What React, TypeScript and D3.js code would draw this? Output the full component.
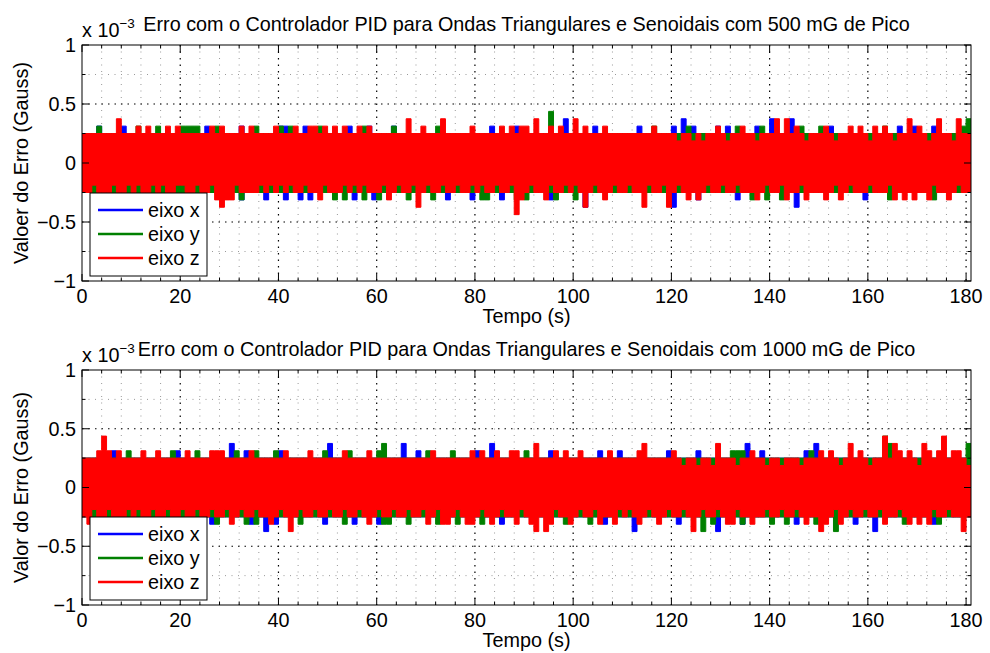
import React from 'react';
import * as d3 from 'd3';

// sensor quantization step, in units of 1e-3 Gauss; series below are stored as integer steps
const LEVEL = 0.0625;

const xTicks = [0, 20, 40, 60, 80, 100, 120, 140, 160, 180];
const xMinor = [4, 8, 12, 16, 24, 28, 32, 36, 44, 48, 52, 56, 64, 68, 72, 76, 84, 88, 92, 96, 104, 108, 112, 116, 124, 128, 132, 136, 144, 148, 152, 156, 164, 168, 172, 176];
const yTicks = [-1, -0.5, 0, 0.5, 1];
const yTickLabels = ['\u22121', '\u22120.5', '0', '0.5', '1'];
const yMinor = [-0.75, -0.25, 0.25, 0.75];
const seriesNames = ['eixo x', 'eixo y', 'eixo z'];
const seriesColors = ['#0000ff', '#008000', '#ff0000'];
const titles = [
  'Erro com o Controlador PID para Ondas Triangulares e Senoidais com 500 mG de Pico',
  'Erro com o Controlador PID para Ondas Triangulares e Senoidais com 1000 mG de Pico',
];
const yLabels = ['Valoer do Erro (Gauss)', 'Valor do Erro (Gauss)'];

// ---- 500 mG, per second peak (upper) and trough (lower) levels ----
const x1Upper = [
  4,4,4,5,4,4,4,4,5,4, 4,4,4,4,4,4,4,4,4,4, 4,4,4,4,4,5,4,4,4,4, 4,4,5,4,4,4,4,4,4,4,
  5,5,4,4,4,5,4,4,4,4, 4,4,4,4,5,4,4,4,5,4, 4,4,4,5,4,4,4,4,4,4, 4,4,4,4,4,4,4,4,4,4,
  4,4,4,5,4,4,4,4,5,4, 4,4,4,4,4,4,4,4,6,4, 4,4,4,4,5,4,4,4,4,4, 4,4,4,5,4,4,4,4,4,4,
  5,4,6,4,5,4,4,4,4,5, 4,5,4,4,4,4,4,5,4,4, 6,4,4,4,6,4,4,4,4,4, 4,4,5,4,4,4,4,4,4,4,
  4,4,4,4,4,4,5,4,4,5, 4,4,4,5,4,4,4,4,4,4, 4,
];
const x1Lower = [
  -4,-4,-4,-4,-4,-4,-4,-4,-4,-4, -4,-4,-4,-4,-4,-4,-4,-4,-4,-4, -4,-4,-4,-4,-4,-4,-4,-4,-4,-4, -4,-4,-5,-4,-4,-4,-4,-5,-4,-4,
  -4,-5,-4,-4,-5,-4,-5,-4,-4,-4, -4,-4,-4,-4,-4,-5,-4,-4,-4,-5, -4,-4,-4,-4,-4,-4,-4,-4,-4,-4, -4,-4,-4,-4,-5,-4,-4,-4,-4,-5,
  -4,-4,-4,-4,-4,-5,-4,-4,-4,-4, -4,-4,-4,-4,-4,-5,-4,-4,-4,-4, -4,-4,-6,-4,-4,-4,-4,-4,-4,-4, -4,-4,-4,-4,-4,-4,-4,-4,-4,-4,
  -6,-4,-4,-4,-4,-5,-4,-4,-4,-4, -4,-4,-4,-5,-4,-4,-4,-4,-4,-4, -4,-4,-4,-4,-4,-6,-4,-4,-4,-4, -4,-4,-4,-4,-4,-4,-4,-4,-4,-5,
  -4,-4,-4,-4,-4,-4,-4,-4,-4,-4, -4,-4,-4,-4,-4,-4,-4,-4,-4,-4, -4,
];
const y1Upper = [
  4,4,4,5,4,4,4,4,4,4, 4,5,4,4,4,5,4,4,4,4, 5,5,5,5,4,4,4,5,4,4, 4,4,4,4,4,5,4,4,4,4,
  5,4,5,4,4,4,4,4,5,4, 4,4,4,4,4,4,4,5,4,4, 4,4,4,5,4,4,4,4,4,4, 4,4,5,4,4,4,4,4,4,4,
  4,4,4,4,4,4,4,4,4,4, 4,4,4,4,4,7,4,4,4,4, 4,4,4,4,4,4,4,4,4,4, 4,4,4,4,4,4,5,4,4,4,
  4,4,4,5,4,4,4,4,4,4, 4,4,4,5,4,4,4,4,5,4, 4,4,4,4,4,4,5,4,4,4, 5,4,4,4,4,4,4,4,4,4,
  4,4,4,5,4,4,4,4,4,4, 4,4,4,4,4,4,4,4,4,5, 6,
];
const y1Lower = [
  -4,-4,-4,-4,-4,-4,-4,-4,-4,-4, -4,-4,-4,-4,-4,-4,-5,-4,-4,-4, -4,-4,-4,-4,-4,-4,-4,-4,-4,-4, -4,-4,-5,-4,-4,-4,-4,-4,-4,-4,
  -4,-4,-4,-4,-4,-4,-4,-4,-4,-4, -4,-5,-4,-5,-4,-4,-4,-5,-4,-4, -5,-4,-4,-4,-4,-4,-5,-4,-4,-4, -4,-5,-4,-4,-4,-4,-4,-4,-4,-4,
  -4,-5,-5,-4,-4,-4,-4,-4,-5,-4, -5,-4,-4,-4,-4,-4,-5,-4,-4,-4, -5,-4,-4,-4,-4,-4,-4,-4,-4,-4, -4,-4,-4,-4,-4,-4,-4,-4,-4,-4,
  -4,-4,-4,-4,-4,-4,-4,-4,-4,-4, -4,-4,-4,-4,-4,-4,-5,-4,-4,-5, -4,-4,-5,-4,-4,-4,-4,-4,-4,-4, -4,-4,-4,-4,-4,-4,-4,-4,-4,-4,
  -4,-4,-4,-4,-5,-4,-4,-4,-4,-4, -4,-4,-4,-5,-4,-4,-4,-4,-4,-4, -4,
];
const z1Upper = [
  4,4,4,4,4,4,4,6,4,4, 4,5,4,5,4,4,4,5,4,5, 4,4,4,4,4,4,5,4,5,4, 4,4,5,4,5,4,4,4,4,5,
  4,4,4,5,4,4,5,5,4,5, 4,5,4,5,4,4,5,4,5,4, 4,4,4,4,4,4,6,4,4,5, 4,4,4,6,4,4,4,4,4,5,
  4,4,4,4,4,5,4,5,4,5, 5,4,6,4,4,5,4,5,4,4, 6,4,5,4,4,4,5,4,4,4, 4,4,4,4,4,4,5,4,4,4,
  4,3,4,4,3,4,3,4,4,5, 4,3,4,4,5,4,4,3,4,4, 4,6,4,6,4,5,4,3,4,4, 4,5,4,3,4,4,5,4,5,4,
  3,5,4,5,4,3,4,4,6,4, 5,4,3,4,6,4,4,3,6,4, 4,
];
const z1Lower = [
  -4,-4,-3,-4,-4,-4,-3,-4,-4,-3, -4,-3,-4,-4,-3,-4,-3,-4,-4,-3, -3,-4,-4,-3,-4,-4,-3,-5,-6,-5, -5,-3,-4,-4,-4,-4,-3,-4,-3,-4,
  -3,-4,-3,-4,-4,-3,-4,-4,-5,-3, -4,-4,-4,-3,-4,-3,-4,-3,-4,-4, -4,-3,-5,-4,-3,-4,-4,-3,-6,-4, -3,-4,-4,-3,-4,-4,-3,-4,-4,-3,
  -4,-3,-4,-4,-3,-4,-4,-3,-7,-5, -4,-3,-4,-4,-5,-3,-4,-4,-3,-4, -3,-4,-6,-4,-3,-4,-5,-4,-3,-4, -4,-3,-4,-4,-6,-3,-4,-4,-3,-6,
  -4,-3,-4,-5,-4,-5,-4,-3,-4,-4, -3,-4,-4,-3,-4,-4,-4,-5,-4,-3, -4,-4,-3,-5,-4,-4,-3,-5,-4,-4, -4,-5,-4,-3,-5,-4,-3,-4,-4,-4,
  -3,-4,-4,-4,-3,-5,-4,-5,-4,-5, -4,-4,-5,-3,-4,-4,-5,-4,-3,-4, -4,
];

// ---- 1000 mG ----
const x2Upper = [
  4,4,4,4,4,4,5,4,4,4, 4,4,4,4,4,4,4,4,4,5, 4,4,4,4,4,4,4,4,4,4, 6,4,4,5,4,4,4,4,4,4,
  5,4,4,4,4,4,4,4,4,4, 6,4,4,4,4,4,4,4,4,4, 4,4,4,4,4,6,4,4,5,4, 4,4,4,4,4,4,4,4,4,4,
  5,4,4,6,4,4,4,4,4,4, 4,4,4,4,4,5,4,4,4,4, 4,4,4,4,4,5,4,4,4,5, 4,4,4,4,4,4,4,4,4,5,
  4,4,4,4,4,5,4,4,4,4, 4,4,4,4,4,6,4,4,5,4, 4,4,4,4,4,4,4,5,4,6, 4,4,4,4,4,4,4,4,4,4,
  4,4,4,4,4,4,4,4,4,4, 4,4,4,4,4,4,4,4,4,4, 4,
];
const x2Lower = [
  -4,-4,-4,-4,-4,-4,-4,-4,-4,-4, -4,-4,-4,-4,-4,-4,-4,-4,-4,-4, -4,-4,-4,-4,-4,-4,-5,-4,-4,-4, -4,-4,-4,-4,-5,-4,-4,-6,-4,-5,
  -4,-4,-4,-4,-4,-4,-4,-4,-4,-5, -4,-4,-4,-4,-4,-5,-4,-4,-4,-4, -5,-4,-4,-4,-4,-4,-4,-4,-4,-4, -4,-4,-4,-4,-4,-4,-4,-4,-4,-4,
  -4,-4,-4,-4,-4,-5,-4,-4,-4,-4, -4,-4,-4,-4,-4,-4,-4,-4,-4,-4, -4,-4,-4,-4,-4,-4,-5,-4,-4,-4, -4,-4,-6,-4,-4,-4,-4,-4,-4,-4,
  -4,-5,-4,-4,-4,-4,-4,-4,-4,-6, -4,-4,-4,-4,-5,-4,-4,-4,-4,-4, -4,-4,-4,-4,-4,-5,-4,-4,-4,-4, -4,-4,-4,-4,-4,-4,-4,-5,-4,-4,
  -4,-6,-4,-4,-4,-4,-4,-4,-4,-4, -4,-4,-4,-5,-4,-4,-4,-4,-4,-4, -4,
];
const y2Upper = [
  4,4,4,4,4,4,4,4,4,5, 4,4,4,4,4,4,4,4,5,4, 4,4,4,5,4,4,4,4,4,4, 4,5,4,4,4,5,4,4,4,5,
  4,4,4,4,4,4,4,4,4,5, 4,4,4,4,5,4,4,4,4,4, 5,6,4,4,4,4,4,4,4,4, 5,4,4,4,4,5,4,4,4,4,
  4,4,4,4,4,4,4,4,4,4, 5,4,4,4,4,4,4,4,4,4, 4,4,4,4,4,4,4,4,4,4, 4,4,4,4,4,4,4,4,4,4,
  4,4,4,4,4,4,4,4,4,4, 4,4,5,5,5,4,4,4,4,4, 4,4,4,4,4,4,4,4,5,4, 4,4,4,4,4,4,4,4,4,4,
  4,4,4,7,6,4,4,4,4,4, 4,4,4,4,4,4,4,4,4,4, 6,
];
const y2Lower = [
  -4,-4,-4,-4,-4,-4,-4,-4,-4,-4, -4,-4,-4,-4,-4,-4,-4,-4,-4,-4, -4,-4,-4,-4,-4,-4,-4,-5,-4,-4, -4,-4,-4,-5,-4,-5,-4,-4,-4,-4,
  -4,-4,-4,-4,-5,-4,-4,-4,-4,-4, -4,-4,-4,-5,-4,-4,-4,-4,-4,-4, -4,-5,-5,-4,-4,-4,-5,-4,-4,-4, -4,-4,-5,-4,-4,-4,-5,-4,-4,-4,
  -4,-5,-4,-4,-4,-4,-4,-4,-4,-4, -4,-4,-4,-4,-4,-4,-4,-4,-5,-4, -4,-4,-4,-5,-4,-4,-4,-4,-4,-4, -4,-4,-4,-4,-4,-4,-4,-4,-4,-4,
  -4,-4,-4,-4,-4,-4,-6,-4,-5,-4, -4,-4,-4,-4,-5,-4,-4,-4,-4,-4, -5,-4,-4,-5,-4,-4,-4,-4,-4,-5, -4,-4,-4,-6,-4,-4,-4,-4,-4,-4,
  -4,-4,-4,-4,-4,-4,-4,-5,-4,-4, -4,-4,-4,-4,-5,-4,-4,-4,-4,-4, -4,
];
const z2Upper = [
  4,4,4,5,7,5,4,5,4,4, 4,4,5,4,4,5,4,4,4,4, 4,5,4,4,4,4,5,5,5,4, 4,4,4,4,5,4,4,4,4,4,
  4,5,4,4,4,4,5,4,4,4, 4,4,4,5,4,4,4,4,5,4, 4,4,4,4,4,4,4,4,4,4, 4,5,4,4,4,4,4,4,4,5,
  4,5,4,4,5,4,4,5,5,4, 4,4,6,4,4,4,5,4,5,4, 4,5,4,4,4,4,4,5,4,4, 4,4,4,5,6,4,4,4,4,4,
  5,4,3,4,4,3,4,4,3,6, 4,4,4,3,4,4,5,4,4,3, 4,4,3,4,4,4,3,4,4,4, 5,4,5,4,3,4,6,4,5,4,
  3,4,4,7,4,6,5,4,5,4, 3,6,5,4,5,7,4,5,5,4, 3,
];
const z2Lower = [
  -4,-5,-3,-4,-4,-3,-4,-4,-4,-3, -4,-3,-4,-4,-3,-4,-4,-3,-4,-4, -3,-4,-4,-3,-4,-4,-3,-4,-4,-3, -5,-4,-3,-4,-4,-3,-4,-4,-5,-4,
  -3,-4,-6,-4,-3,-4,-4,-3,-4,-4, -3,-4,-4,-3,-4,-4,-3,-4,-5,-4, -3,-4,-4,-3,-4,-4,-3,-4,-4,-3, -5,-4,-3,-5,-5,-4,-3,-4,-5,-5,
  -4,-3,-4,-5,-4,-3,-4,-4,-5,-3, -4,-5,-6,-4,-6,-5,-3,-4,-4,-5, -4,-3,-4,-4,-3,-5,-4,-4,-5,-3, -4,-3,-4,-5,-4,-3,-4,-5,-4,-3,
  -4,-4,-3,-4,-6,-4,-3,-4,-4,-3, -4,-5,-5,-3,-4,-4,-5,-4,-4,-3, -4,-4,-3,-4,-4,-3,-4,-5,-4,-4, -6,-5,-4,-3,-5,-4,-3,-4,-4,-3,
  -4,-4,-3,-5,-4,-4,-3,-4,-5,-4, -5,-4,-5,-3,-4,-4,-3,-4,-4,-6, -4,
];

const panelSeries = [
  [[x1Lower, x1Upper], [y1Lower, y1Upper], [z1Lower, z1Upper]],
  [[x2Lower, x2Upper], [y2Lower, y2Upper], [z2Lower, z2Upper]],
];

const W = 990;
const H = 653;
const LEFT = 82;
const RIGHT = 971;
const X_MAX = 181;
const PANELS = [
  { top: 45, bottom: 281 },
  { top: 370, bottom: 605 },
];
const FONT = '"Liberation Sans", Arial, Helvetica, sans-serif';
const FS = 19.8;

function Panel({ idx }: { idx: number }) {
  const { top, bottom } = PANELS[idx];
  const x = d3.scaleLinear().domain([0, X_MAX]).range([LEFT, RIGHT]);
  const y = d3.scaleLinear().domain([-1, 1]).range([bottom, top]);
  const clipId = `clip-${idx}`;

  // each second is drawn as a filled span between its trough and its peak
  const paths = panelSeries[idx].map(([lo, hi]) => {
    const n = hi.length;
    const steps = d3.range(n + 1);
    return d3
      .area<number>()
      .x((i) => x(i))
      .y0((i) => y(lo[Math.min(i, n - 1)] * LEVEL))
      .y1((i) => y(hi[Math.min(i, n - 1)] * LEVEL))
      .curve(d3.curveStepAfter)(steps) as string;
  });

  const midX = (LEFT + RIGHT) / 2;
  const legTop = bottom - 88;
  const legRows = [bottom - 71, bottom - 47, bottom - 23];

  return (
    <g fontFamily={FONT}>
      <defs>
        <clipPath id={clipId}>
          <rect x={LEFT} y={top} width={RIGHT - LEFT} height={bottom - top} />
        </clipPath>
      </defs>
      <rect x={LEFT} y={top} width={RIGHT - LEFT} height={bottom - top} fill="#fff" />
      {/* minor grid */}
      {xMinor.map((t) => (
        <line key={`xm${t}`} x1={x(t)} x2={x(t)} y1={top} y2={bottom} stroke="#999" strokeWidth={1} strokeDasharray="1,5.5" />
      ))}
      {yMinor.map((v) => (
        <line key={`ym${v}`} x1={LEFT} x2={RIGHT} y1={y(v)} y2={y(v)} stroke="#999" strokeWidth={1} strokeDasharray="1,5.5" />
      ))}
      {/* major grid */}
      {xTicks.slice(1).map((t) => (
        <line key={`xg${t}`} x1={x(t)} x2={x(t)} y1={top} y2={bottom} stroke="#000" strokeWidth={1.2} strokeDasharray="1.5,5" />
      ))}
      {yTicks.slice(1, -1).map((v) => (
        <line key={`yg${v}`} x1={LEFT} x2={RIGHT} y1={y(v)} y2={y(v)} stroke="#000" strokeWidth={1.2} strokeDasharray="1.5,5" />
      ))}
      {/* data */}
      <g clipPath={`url(#${clipId})`}>
        {paths.map((d, i) => (
          <path key={i} d={d} fill={seriesColors[i]} stroke={seriesColors[i]} strokeWidth={1} strokeLinejoin="round" />
        ))}
      </g>
      {/* ticks */}
      {xTicks.map((t) => (
        <g key={`xt${t}`}>
          <line x1={x(t)} x2={x(t)} y1={bottom} y2={bottom - 7} stroke="#000" />
          <line x1={x(t)} x2={x(t)} y1={top} y2={top + 7} stroke="#000" />
        </g>
      ))}
      {xMinor.map((t) => (
        <g key={`xmt${t}`}>
          <line x1={x(t)} x2={x(t)} y1={bottom} y2={bottom - 3.5} stroke="#000" />
          <line x1={x(t)} x2={x(t)} y1={top} y2={top + 3.5} stroke="#000" />
        </g>
      ))}
      {yTicks.map((v) => (
        <g key={`yt${v}`}>
          <line x1={LEFT} x2={LEFT + 7} y1={y(v)} y2={y(v)} stroke="#000" />
          <line x1={RIGHT} x2={RIGHT - 7} y1={y(v)} y2={y(v)} stroke="#000" />
        </g>
      ))}
      {yMinor.map((v) => (
        <g key={`ymt${v}`}>
          <line x1={LEFT} x2={LEFT + 3.5} y1={y(v)} y2={y(v)} stroke="#000" />
          <line x1={RIGHT} x2={RIGHT - 3.5} y1={y(v)} y2={y(v)} stroke="#000" />
        </g>
      ))}
      <rect x={LEFT} y={top} width={RIGHT - LEFT} height={bottom - top} fill="none" stroke="#000" strokeWidth={1} />
      {/* tick labels */}
      {xTicks.map((t) => (
        <text key={`xl${t}`} x={x(t)} y={bottom + 22} textAnchor="middle" fontSize={FS}>
          {t}
        </text>
      ))}
      {yTicks.map((v, i) => (
        <text key={`yl${v}`} x={LEFT - 6} y={y(v)} dy="0.35em" textAnchor="end" fontSize={FS}>
          {yTickLabels[i]}
        </text>
      ))}
      {/* exponent + title */}
      <text x={LEFT} y={top - 8} fontSize={FS}>
        x 10
        <tspan dy={-9} fontSize={13.5}>
          {'\u22123'}
        </tspan>
      </text>
      <text x={midX} y={top - 14} textAnchor="middle" fontSize={FS}>
        {titles[idx]}
      </text>
      <text x={midX} y={bottom + 42} textAnchor="middle" fontSize={FS}>
        Tempo (s)
      </text>
      <text
        transform={`translate(${28},${(top + bottom) / 2}) rotate(-90)`}
        textAnchor="middle"
        fontSize={FS}
      >
        {yLabels[idx]}
      </text>
      {/* legend */}
      <rect x={LEFT + 8} y={legTop} width={117} height={83} fill="#fff" stroke="#000" strokeWidth={1} />
      {seriesNames.map((name, i) => (
        <g key={name}>
          <line x1={LEFT + 16} x2={LEFT + 61} y1={legRows[i]} y2={legRows[i]} stroke={seriesColors[i]} strokeWidth={2.5} />
          <text x={LEFT + 66} y={legRows[i]} dy="0.35em" fontSize={FS}>
            {name}
          </text>
        </g>
      ))}
    </g>
  );
}

export default function App() {
  return (
    <svg
      width={W}
      height={H}
      style={{ position: 'absolute', left: 0, top: 0, background: '#fff' }}
    >
      <rect width={W} height={H} fill="#fff" />
      <Panel idx={0} />
      <Panel idx={1} />
    </svg>
  );
}
